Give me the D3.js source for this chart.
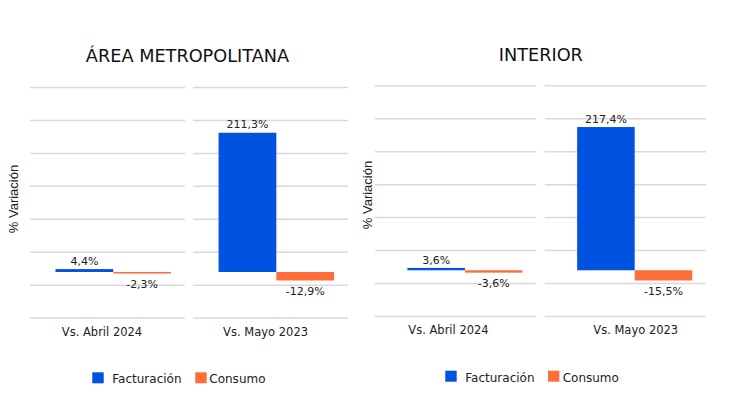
<!DOCTYPE html>
<html>
<head>
<meta charset="utf-8">
<script src="https://cdn.jsdelivr.net/npm/d3@7"></script>
<style>
  html, body { margin: 0; padding: 0; background: #fff; }
  svg { display: block; }
</style>
</head>
<body>
<script>
// ---- Data ----
const categories = ["Vs. Abril 2024", "Vs. Mayo 2023"];
const seriesNames = ["Facturación", "Consumo"];
const metroFacturacion = [4.4, 211.3];
const metroConsumo = [-2.3, -12.9];
const interiorFacturacion = [3.6, 217.4];
const interiorConsumo = [-3.6, -15.5];
const panelTitles = ["ÁREA METROPOLITANA", "INTERIOR"];
const gridValues = [-70, -20, 30, 80, 130, 180, 230, 280];
const yAxisTitle = "% Variación";

// ---- Layout / style ----
const W = 734, H = 410;
const colors = { "Facturación": "#0052e0", "Consumo": "#ff6d3a" };
const FONT = "'DejaVu Sans', sans-serif";

const panels = [
  {
    title: panelTitles[0], fact: metroFacturacion, cons: metroConsumo,
    titleX: 187.5, titleY: 61.7,
    xRange: [30, 348], barRange: [25.5, 141],
    yRange: [318.1, 87.5],
    labelOffsets: [72, 72.5],
    yTitleX: 18, yTitleY: 199,
    legend: { y: 372.3, sq1: 92.3, t1: 112.3, sq2: 195.3, t2: 209.3 }
  },
  {
    title: panelTitles[1], fact: interiorFacturacion, cons: interiorConsumo,
    titleX: 540.8, titleY: 60.7,
    xRange: [375, 706], barRange: [32.4, 147.5],
    yRange: [316.4, 85.8],
    labelOffsets: [73.5, 91],
    yTitleX: 372, yTitleY: 195,
    legend: { y: 370.7, sq1: 445.3, t1: 465.3, sq2: 548, t2: 562.7 }
  }
];

const svg = d3.select("body").append("svg")
  .attr("width", W).attr("height", H)
  .attr("viewBox", `0 0 ${W} ${H}`);

const fmt = v => v.toFixed(1).replace(".", ",") + "%";

panels.forEach(p => {
  const g = svg.append("g");
  const x0 = d3.scaleBand().domain(categories).range(p.xRange).paddingInner(0.05);
  const x1 = d3.scaleBand().domain(seriesNames).range(p.barRange);
  const y = d3.scaleLinear().domain([gridValues[0], gridValues[gridValues.length - 1]]).range(p.yRange);

  // Title
  g.append("text")
    .attr("x", p.titleX).attr("y", p.titleY)
    .attr("text-anchor", "middle")
    .attr("font-family", FONT).attr("font-size", 17.7)
    .attr("fill", "#111")
    .text(p.title);

  // Y axis title
  g.append("text")
    .attr("transform", `translate(${p.yTitleX},${p.yTitleY}) rotate(-90)`)
    .attr("text-anchor", "middle")
    .attr("font-family", "'Liberation Sans', Arial, sans-serif")
    .attr("font-size", 13)
    .attr("fill", "#222")
    .text(yAxisTitle);

  // Gridlines per category band
  categories.forEach(c => {
    g.append("g").selectAll("line").data(gridValues).join("line")
      .attr("x1", x0(c)).attr("x2", x0(c) + x0.bandwidth())
      .attr("y1", d => y(d)).attr("y2", d => y(d))
      .attr("stroke", "#d9d9d9").attr("stroke-width", 1.5);
  });

  // Bars
  const rows = categories.map((c, i) => ({
    cat: c, i,
    values: [
      { s: seriesNames[0], v: p.fact[i] },
      { s: seriesNames[1], v: p.cons[i] }
    ]
  }));

  const cg = g.selectAll(".cat").data(rows).join("g")
    .attr("transform", d => `translate(${x0(d.cat)},0)`);

  cg.selectAll("rect").data(d => d.values).join("rect")
    .attr("x", d => x1(d.s))
    .attr("width", x1.bandwidth())
    .attr("y", d => Math.min(y(d.v), y(0)))
    .attr("height", d => Math.max(1.5, Math.abs(y(d.v) - y(0))))
    .attr("fill", d => colors[d.s]);

  cg.selectAll("text.val").data(d => d.values).join("text")
    .attr("class", "val")
    .attr("x", d => x1(d.s) + x1.bandwidth() / 2)
    .attr("y", d => d.v >= 0 ? y(d.v) - 4.3 : y(d.v) + 14.5)
    .attr("text-anchor", "middle")
    .attr("font-family", FONT).attr("font-size", 11)
    .attr("fill", "#222")
    .text(d => fmt(d.v));

  // Category labels
  g.selectAll("text.cat").data(categories).join("text")
    .attr("class", "cat")
    .attr("x", (c, i) => x0(c) + p.labelOffsets[i])
    .attr("y", y(gridValues[0]) + 17.5)
    .attr("text-anchor", "middle")
    .attr("font-family", FONT).attr("font-size", 11.5)
    .attr("fill", "#222")
    .text(c => c);

  // Legend
  const L = p.legend;
  const legendItems = [
    { s: seriesNames[0], sq: L.sq1, t: L.t1 },
    { s: seriesNames[1], sq: L.sq2, t: L.t2 }
  ];
  const lg = g.append("g");
  lg.selectAll("rect").data(legendItems).join("rect")
    .attr("x", d => d.sq).attr("y", L.y)
    .attr("width", 11.4).attr("height", 11)
    .attr("fill", d => colors[d.s]);
  lg.selectAll("text").data(legendItems).join("text")
    .attr("x", d => d.t).attr("y", L.y + 10.8)
    .attr("font-family", FONT).attr("font-size", 12)
    .attr("fill", "#222")
    .text(d => d.s);
});
</script>
</body>
</html>
